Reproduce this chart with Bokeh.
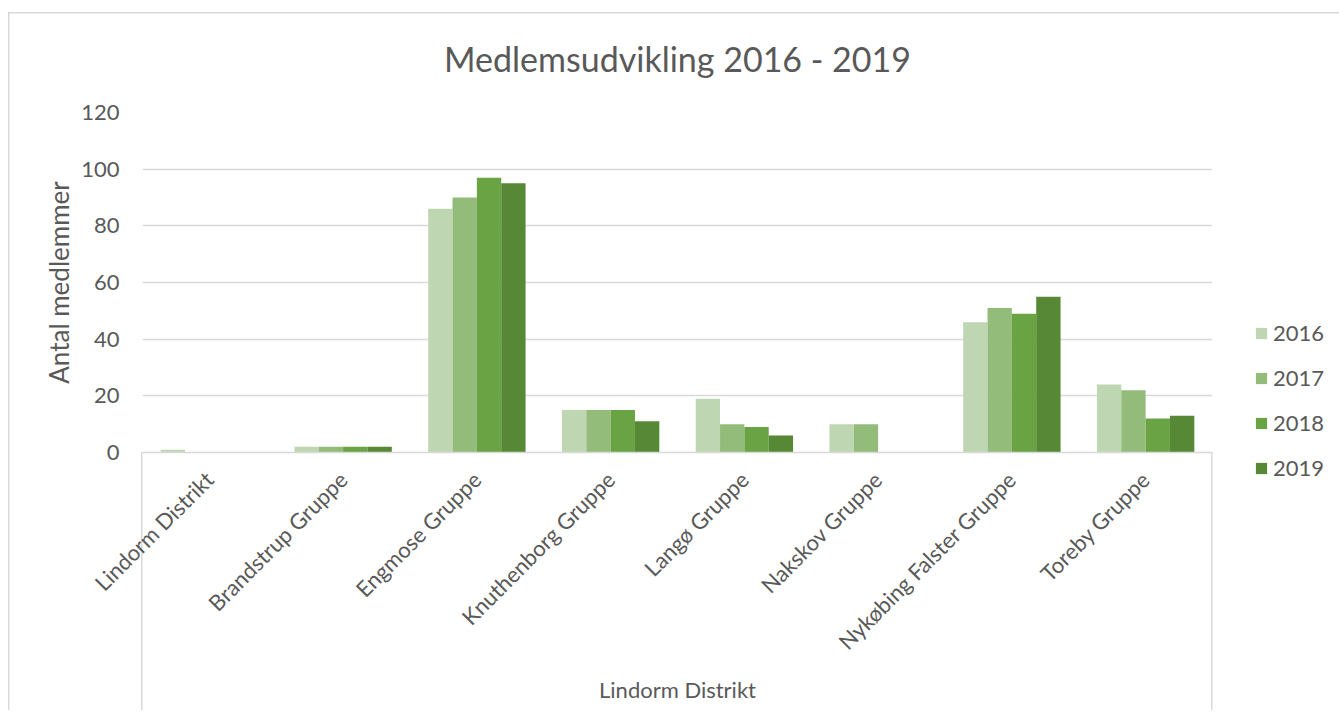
from math import pi
from bokeh.plotting import figure
from bokeh.models import (FactorRange, Range1d, FixedTicker, Legend, LegendItem,
                          ColumnDataSource)
from bokeh.transform import dodge
from bokeh.embed import file_html
from bokeh.resources import INLINE

categories = ["Lindorm Distrikt", "Brandstrup Gruppe", "Engmose Gruppe",
              "Knuthenborg Gruppe", "Langø Gruppe", "Nakskov Gruppe",
              "Nykøbing Falster Gruppe", "Toreby Gruppe"]
years = ["2016", "2017", "2018", "2019"]
v2016 = [1, 2, 86, 15, 19, 10, 46, 24]
v2017 = [0, 2, 90, 15, 10, 10, 51, 22]
v2018 = [0, 2, 97, 15, 9, 0, 49, 12]
v2019 = [0, 2, 95, 11, 6, 0, 55, 13]
y_ticks = [0, 20, 40, 60, 80, 100, 120]

title = "Medlemsudvikling 2016 - 2019"
y_title = "Antal medlemmer"
x_title = "Lindorm Distrikt"

colors = ["#BFD6B2", "#93BC7B", "#6AA343", "#568836"]
FONT = "Lato"
TXT = "#595959"
GRID = "#D9D9D9"

source = ColumnDataSource(dict(cat=categories, v2016=v2016, v2017=v2017,
                               v2018=v2018, v2019=v2019))

BL, BT = 134, 112         # left / top borders of the canvas
FW, FH = 1070, 340        # plot frame size
BR, BB = 127, 258

p = figure(x_range=FactorRange(*categories), y_range=Range1d(0, 120),
           frame_width=FW, frame_height=FH, output_backend="svg",
           toolbar_location=None,
           min_border_left=BL, min_border_right=BR, min_border_top=BT,
           min_border_bottom=BB)
p.outline_line_color = None
p.background_fill_color = "white"
p.border_fill_color = None

# chart-area border (left/top) and the two category-group separators
ln = "linear-gradient(#D9D9D9, #D9D9D9)"
p.styles = {
    "margin-left": "8px",
    "background-color": "white",
    "background-image": ", ".join([ln] * 4),
    "background-size": "100% 1.5px, 1.5px 100%, 1.5px 400px, 1.5px 400px",
    "background-position": (f"0px 12px, 0px 12px, {BL - 0.75}px {BT + FH}px, "
                            f"{BL + FW - 0.75}px {BT + FH}px"),
    "background-repeat": "no-repeat",
}

bw = 0.182
offsets = [-1.5 * bw, -0.5 * bw, 0.5 * bw, 1.5 * bw]
renderers = []
for yr, off, col in zip(years, offsets, colors):
    r = p.vbar(x=dodge("cat", off, range=p.x_range), top="v" + yr, width=bw,
               source=source, fill_color=col, line_color=None)
    renderers.append(r)

# title
p.title.text = title
p.title.align = "center"
p.title.text_font = FONT
p.title.text_font_size = "34px"
p.title.text_font_style = "normal"
p.title.text_color = TXT
p.title.standoff = 68

# y axis
p.yaxis.ticker = FixedTicker(ticks=y_ticks)
p.yaxis.axis_line_color = None
p.yaxis.major_tick_line_color = None
p.yaxis.minor_tick_line_color = None
p.yaxis.major_tick_out = 0
p.yaxis.major_tick_in = 0
p.yaxis.major_label_text_font = FONT
p.yaxis.major_label_text_font_size = "22px"
p.yaxis.major_label_text_color = TXT
p.yaxis.major_label_standoff = 23
p.yaxis.axis_label = y_title
p.yaxis.axis_label_text_font = FONT
p.yaxis.axis_label_text_font_size = "26px"
p.yaxis.axis_label_text_font_style = "normal"
p.yaxis.axis_label_text_color = TXT
p.yaxis.axis_label_standoff = 3

# x axis
p.xaxis.major_label_orientation = pi / 4
p.xaxis.major_tick_line_color = None
p.xaxis.major_tick_out = 0
p.xaxis.major_tick_in = 0
p.xaxis.axis_line_color = GRID
p.xaxis.axis_line_width = 1.5
p.xaxis.major_label_text_font = FONT
p.xaxis.major_label_text_font_size = "22px"
p.xaxis.major_label_text_color = TXT
p.xaxis.major_label_standoff = 23
p.xaxis.axis_label = x_title
p.xaxis.axis_label_text_font = FONT
p.xaxis.axis_label_text_font_size = "22px"
p.xaxis.axis_label_text_font_style = "normal"
p.xaxis.axis_label_text_color = TXT
p.xaxis.axis_label_standoff = 9

p.xgrid.grid_line_color = None
p.ygrid.grid_line_color = GRID
p.ygrid.grid_line_width = 1.5

legend = Legend(items=[LegendItem(label=y, renderers=[r]) for y, r in zip(years, renderers)],
                location=(42, -29), orientation="vertical",
                glyph_width=14, glyph_height=14, label_standoff=5,
                label_text_font=FONT, label_text_font_size="22px",
                label_text_color=TXT, spacing=18, padding=0, margin=0,
                border_line_color=None, background_fill_alpha=0)
p.add_layout(legend, "right")

open("out.html", "w").write(file_html(p, INLINE))
